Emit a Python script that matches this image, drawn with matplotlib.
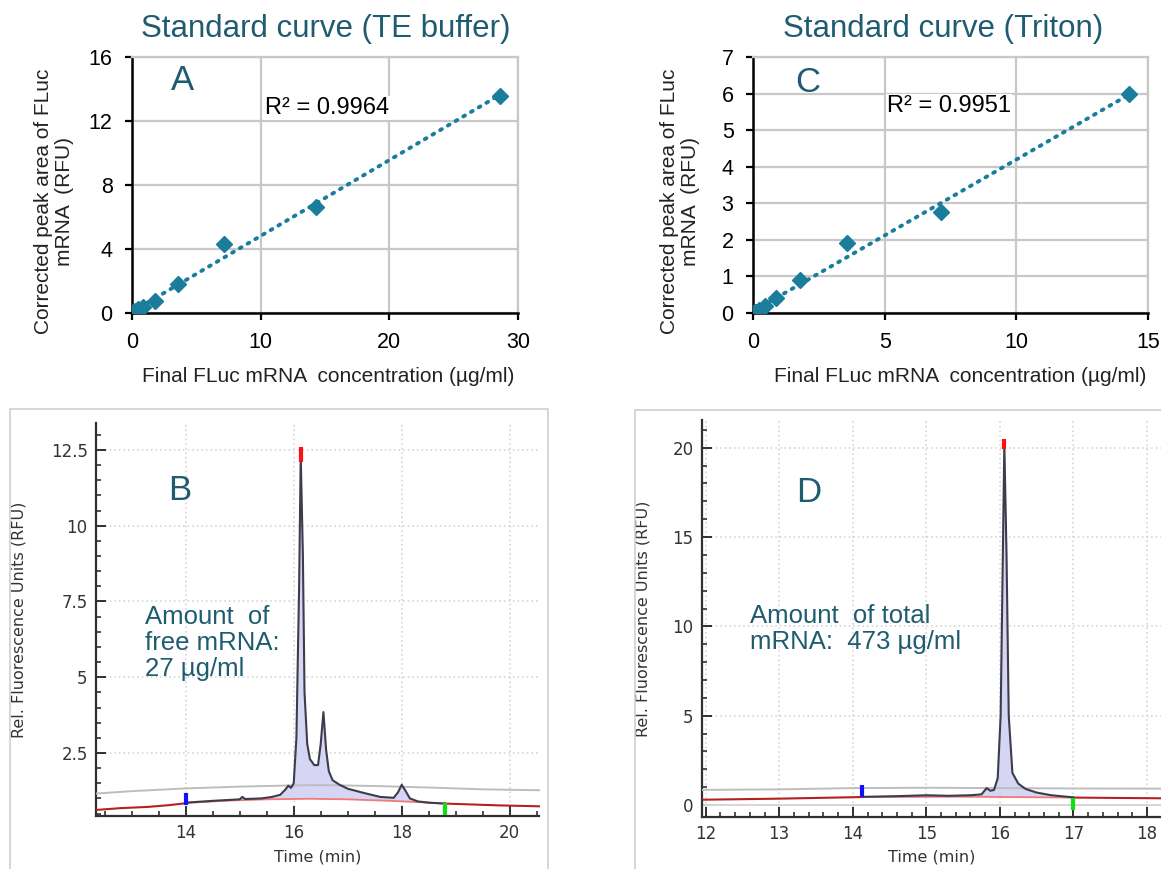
import numpy as np
import matplotlib
matplotlib.use("Agg")
import matplotlib.pyplot as plt
from matplotlib.patches import Rectangle
from matplotlib.ticker import MultipleLocator

# ---- standard curves (A: TE buffer, C: Triton) ----
conc_te = [0, 0.11, 0.22, 0.45, 0.89, 1.79, 3.57, 7.14, 14.29, 28.57]
area_te = [0, 0.04, 0.12, 0.25, 0.38, 0.72, 1.82, 4.29, 6.6, 13.55]
conc_tri = [0, 0.06, 0.11, 0.22, 0.45, 0.89, 1.79, 3.57, 7.14, 14.29]
area_tri = [0, 0.02, 0.04, 0.08, 0.18, 0.41, 0.89, 1.91, 2.77, 5.99]
r2_te = "R² = 0.9964"
r2_tri = "R² = 0.9951"

# ---- electropherogram B (free mRNA) ----
b_sample_t = [14.0, 14.5, 15.0, 15.05, 15.1, 15.4, 15.6, 15.75, 15.85, 15.9, 15.95, 16.0,
              16.05, 16.1, 16.13, 16.17, 16.2, 16.25, 16.3, 16.38, 16.45, 16.5, 16.55,
              16.6, 16.65, 16.72, 16.85, 17.0, 17.3, 17.6, 17.85, 17.93, 18.0, 18.07,
              18.15, 18.3, 18.5, 18.8]
b_sample_y = [0.86, 0.92, 0.97, 1.05, 0.98, 1.0, 1.05, 1.12, 1.3, 1.42, 1.35, 1.5,
              3.0, 8.0, 12.3, 9.0, 4.5, 2.8, 2.3, 2.1, 2.1, 2.8, 3.85,
              2.6, 1.9, 1.6, 1.45, 1.32, 1.18, 1.05, 1.02, 1.2, 1.45, 1.25,
              1.0, 0.9, 0.86, 0.83]
b_base_t = [14.0, 14.8, 15.5, 16.3, 17.0, 17.8, 18.4, 18.8]
b_base_y = [0.85, 0.93, 0.97, 0.99, 0.97, 0.92, 0.87, 0.83]
b_red_t = [12.34, 12.8, 13.3, 13.7, 14.0, None, 18.8, 19.3, 19.8, 20.55]
b_red_y = [0.62, 0.68, 0.72, 0.78, 0.84, None, 0.83, 0.8, 0.77, 0.74]
b_gray_t = [12.34, 13.0, 14.0, 15.0, 16.0, 16.5, 17.5, 18.5, 19.5, 20.55]
b_gray_y = [1.16, 1.24, 1.33, 1.39, 1.43, 1.44, 1.41, 1.36, 1.3, 1.27]
b_marks_t = [14.0, 16.13, 18.8]
b_marks_lo = [0.78, 12.1, 0.45]
b_marks_hi = [1.18, 12.6, 0.85]

# ---- electropherogram D (total mRNA) ----
d_sample_t = [14.13, 14.6, 15.0, 15.3, 15.6, 15.75, 15.82, 15.87, 15.92, 15.97, 16.01,
              16.04, 16.06, 16.09, 16.12, 16.17, 16.25, 16.35, 16.5, 16.7, 17.0]
d_sample_y = [0.46, 0.5, 0.55, 0.52, 0.55, 0.6, 0.95, 0.8, 0.85, 1.5, 5.0,
              14.0, 20.2, 14.0, 5.0, 1.8, 1.2, 0.9, 0.7, 0.55, 0.43]
d_base_t = [14.13, 15.5, 17.0]
d_base_y = [0.45, 0.47, 0.42]
d_red_t = [11.95, 13.0, 14.13, None, 17.0, 18.19]
d_red_y = [0.3, 0.36, 0.45, None, 0.42, 0.38]
d_gray_t = [11.95, 13.0, 14.0, 15.0, 16.0, 17.0, 18.19]
d_gray_y = [0.85, 0.88, 0.95, 0.97, 0.95, 0.93, 0.92]
d_marks_t = [14.13, 16.06, 17.0]
d_marks_lo = [0.47, 19.9, -0.28]
d_marks_hi = [1.1, 20.5, 0.39]
mark_colors = ["#1010ff", "#ff1010", "#10e010"]

W, H = 1161, 869
teal = "#1f5c70"
pt_col = "#1b7d9c"
fig = plt.figure(figsize=(W / 100, H / 100), dpi=100)


def box(l, t, r, b):
    return [l / W, 1 - b / H, (r - l) / W, (b - t) / H]


def ftext(x, y, s, **kw):
    fig.text(x / W, 1 - y / H, s, **kw)


arial = "Liberation Sans"


def std_curve(rect, x, y, xmax, xstep, ymax, ystep, r2, r2pos, letter, lpos, title, tpos,
              ylab_x, xlab_x):
    ax = fig.add_axes(box(*rect))
    ax.plot(x, y, linestyle="none", marker="D", markersize=8.5, color=pt_col, zorder=3)
    k, c = np.polyfit(x, y, 1)
    xs = np.array([min(x), max(x)])
    ax.plot(xs, k * xs + c, color=pt_col, lw=2.8, linestyle=(0, (0.5, 1.8)),
            dash_capstyle="round", zorder=2)
    ax.set_xlim(0, xmax)
    ax.set_ylim(0, ymax)
    ax.xaxis.set_major_locator(MultipleLocator(xstep))
    ax.yaxis.set_major_locator(MultipleLocator(ystep))
    ax.grid(True, color="#c8c8c8", lw=1.6)
    ax.set_axisbelow(True)
    for s in ["top", "right"]:
        ax.spines[s].set_color("#c8c8c8")
        ax.spines[s].set_linewidth(1.6)
    for s in ["left", "bottom"]:
        ax.spines[s].set_linewidth(1.8)
    ax.tick_params(length=5, width=1.6, labelsize=15.5, pad=9)
    for lab in ax.get_xticklabels() + ax.get_yticklabels():
        lab.set_fontfamily(arial)
    ftext(r2pos[0], r2pos[1], r2, fontsize=17, family=arial, va="center", ha="left",
          bbox=dict(facecolor="white", edgecolor="none", pad=1))
    ftext(lpos[0], lpos[1], letter, fontsize=25, family=arial, color=teal,
          ha="center", va="center")
    ftext(tpos[0], tpos[1], title, fontsize=22.5, family=arial, color=teal,
          ha="center", va="center")
    ftext(ylab_x, 201, "Corrected peak area of FLuc\nmRNA  (RFU)", fontsize=15,
          family=arial, color="#222222", rotation=90, ha="center", va="center",
          linespacing=1.15)
    ftext(xlab_x, 377, "Final FLuc mRNA  concentration (µg/ml)", fontsize=15,
          family=arial, color="#222222", ha="center", va="center")
    return ax


std_curve((132, 57, 518, 313), conc_te, area_te, 30, 10, 16, 4, r2_te, (265, 108),
          "A", (182, 81), "Standard curve (TE buffer)", (326, 29), 54, 328)
std_curve((753, 57, 1148, 313), conc_tri, area_tri, 15, 5, 7, 1, r2_tri, (887, 106),
          "C", (808, 82), "Standard curve (Triton)", (943, 29), 680, 960)

# frames around the electropherograms
fig.add_artist(Rectangle((10 / W, -0.01), 538 / W, 1 - 409 / H + 0.01,
                         transform=fig.transFigure, fill=False, ec="#d0d0d0", lw=1.2))
fig.add_artist(Rectangle((635 / W, -0.01), 0.6, 1 - 410 / H + 0.01,
                         transform=fig.transFigure, fill=False, ec="#d0d0d0", lw=1.2))


def epg(rect, xlim, ylim, xmaj, xmin_, ymaj, ymin_, st, sy, bt, by, rt, ry, gt, gy,
        mt, mlo, mhi, yticks, ylab_x):
    ax = fig.add_axes(box(*rect))
    rt = np.array(rt, dtype=float)
    ry = np.array(ry, dtype=float)
    base_on_sample = np.interp(st, bt, by)
    ax.fill_between(st, base_on_sample, sy, color="#cfcff3", alpha=0.85, lw=0, zorder=2)
    ax.plot(gt, gy, color="#bdbdbd", lw=1.4, zorder=3)
    ax.plot(rt, ry, color="#b52020", lw=1.5, zorder=3)
    ax.plot(bt, by, color="#f07a7a", lw=1.3, zorder=3)
    ax.plot(st, sy, color="#3c3c4c", lw=1.5, zorder=4)
    for t, lo, hi, c in zip(mt, mlo, mhi, mark_colors):
        ax.plot([t, t], [lo, hi], color=c, lw=3, solid_capstyle="butt", zorder=5)
    ax.set_xlim(*xlim)
    ax.set_ylim(*ylim)
    ax.xaxis.set_major_locator(MultipleLocator(xmaj))
    ax.xaxis.set_minor_locator(MultipleLocator(xmin_))
    ax.set_yticks(yticks)
    ax.yaxis.set_minor_locator(MultipleLocator(ymin_))
    ax.grid(True, which="major", color="#cfcfcf", lw=1.1, linestyle=(0, (1, 2)))
    ax.set_axisbelow(True)
    for s in ["top", "right"]:
        ax.spines[s].set_visible(False)
    for s in ["left", "bottom"]:
        ax.spines[s].set_linewidth(1.6)
        ax.spines[s].set_color("#303030")
    ax.tick_params(which="major", direction="in", length=7, width=1.4, color="#303030",
                   labelsize=12, labelcolor="#333333", pad=6)
    ax.tick_params(which="minor", direction="in", length=3.5, width=1.2, color="#303030")
    for lab in ax.get_xticklabels() + ax.get_yticklabels():
        lab.set_fontfamily("DejaVu Sans")
    ax.set_xlabel("Time (min)", fontsize=11.5, color="#333333", labelpad=5)
    ax.set_ylabel("Rel. Fluorescence Units (RFU)", fontsize=11.5, color="#333333")
    ax.yaxis.set_label_coords(ylab_x, 0.5)
    return ax


axb = epg((96, 423, 539.5, 816), (12.34, 20.55), (0.42, 13.39), 2, 0.5, 2.5, 0.5,
          b_sample_t, b_sample_y, b_base_t, b_base_y, b_red_t, b_red_y, b_gray_t, b_gray_y,
          b_marks_t, b_marks_lo, b_marks_hi, [2.5, 5, 7.5, 10, 12.5], -0.156)
axb.set_yticklabels(["2.5", "5", "7.5", "10", "12.5"])

axd = epg((702, 420, 1161, 816.7), (11.95, 18.19), (-0.65, 21.55), 1, 0.2, 5, 1,
          d_sample_t, d_sample_y, d_base_t, d_base_y, d_red_t, d_red_y, d_gray_t, d_gray_y,
          d_marks_t, d_marks_lo, d_marks_hi, [0, 5, 10, 15, 20], -0.113)
axd.axhline(0, color="#d6d6d6", lw=1.4, zorder=1)

ftext(180, 490, "B", fontsize=25, family=arial, color=teal, ha="center", va="center")
ftext(145, 643, "Amount  of\nfree mRNA:\n27 µg/ml", fontsize=18.5, family=arial,
      color=teal, ha="left", va="center", linespacing=1.13)
ftext(809, 492, "D", fontsize=25, family=arial, color=teal, ha="center", va="center")
ftext(750, 629, "Amount  of total\nmRNA:  473 µg/ml", fontsize=18.5, family=arial,
      color=teal, ha="left", va="center", linespacing=1.13)

fig.savefig("out.png", dpi=100, facecolor="white")
